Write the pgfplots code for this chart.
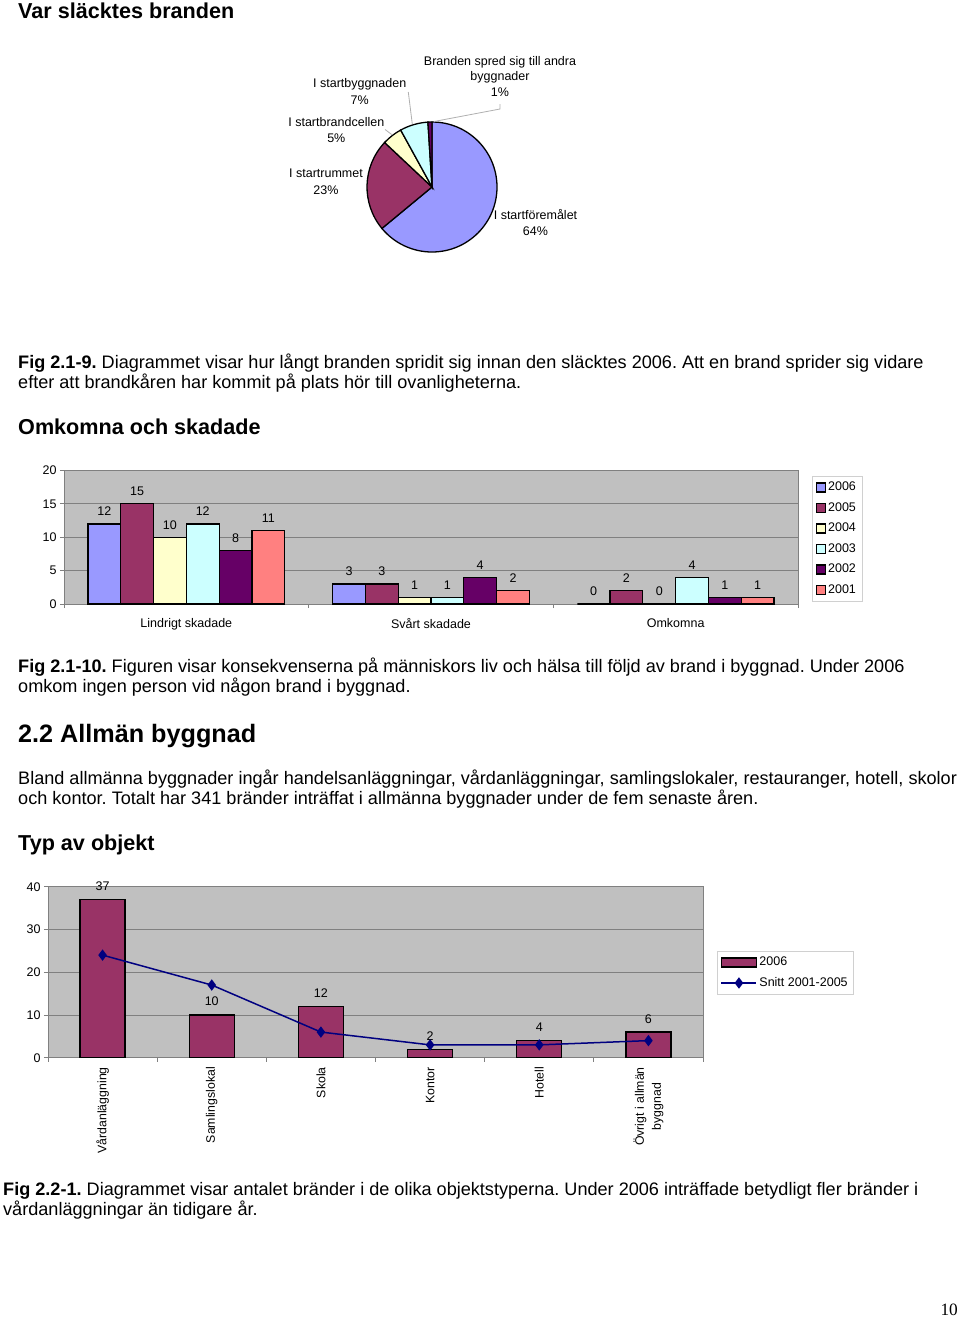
\documentclass[border=0pt]{standalone}
\usepackage{fontspec}
\setmainfont{Liberation Sans}
\newfontfamily\timesfont{Liberation Serif}
\usepackage{pgfplots}
\pgfplotsset{compat=1.18}
\definecolor{cA}{HTML}{9999FF}
\definecolor{cB}{HTML}{993366}
\definecolor{cC}{HTML}{FFFFCC}
\definecolor{cD}{HTML}{CCFFFF}
\definecolor{cE}{HTML}{660066}
\definecolor{cF}{HTML}{FF8080}
\definecolor{plotgray}{HTML}{C0C0C0}
\definecolor{gridgray}{HTML}{808080}
\definecolor{leadgray}{HTML}{B0B0B0}
\definecolor{legendgray}{HTML}{D0D0D0}
\definecolor{navyc}{HTML}{000080}
\frenchspacing
\newcommand{\bodyfont}{\fontsize{18.1}{21}\selectfont}
\newcommand{\headfont}{\fontsize{21.6}{24}\selectfont\bfseries}
\newcommand{\chartfont}{\fontsize{12.5}{15}\selectfont}
\pgfplotsset{
  widebar legend/.style={legend image code/.code={\draw[##1] (0pt,-4.5pt) rectangle (35pt,4.5pt);}},
  smallbar legend/.style={legend image code/.code={\draw[##1] (0pt,-4.5pt) rectangle (9pt,4.5pt);}},
  diamond legend/.style={legend image code/.code={\draw[##1, mark repeat=2, mark phase=2] plot coordinates {(0pt,0pt) (17.5pt,0pt) (35pt,0pt)};}},
}
\begin{document}
\begin{tikzpicture}[x=1pt,y=1pt]
\path[use as bounding box, fill=white] (0,0) rectangle (960,-1320);

% ---------- text ----------
\begin{scope}[every node/.style={anchor=base west, inner sep=0pt}]
\node at (18,-18.3) {\headfont Var släcktes branden};
\node at (18,-368.5) {\bodyfont\textbf{Fig 2.1-9.} Diagrammet visar hur långt branden spridit sig innan den släcktes 2006. Att en brand sprider sig vidare};
\node at (18,-388.7) {\bodyfont efter att brandkåren har kommit på plats hör till ovanligheterna.};
\node at (18,-434.5) {\headfont Omkomna och skadade};
\node at (18,-672.3) {\bodyfont\textbf{Fig 2.1-10.} Figuren visar konsekvenserna på människors liv och hälsa till följd av brand i byggnad. Under 2006};
\node at (18,-692.8) {\bodyfont omkom ingen person vid någon brand i byggnad.};
\node at (18,-742) {\fontsize{25.2}{28}\selectfont\bfseries 2.2 Allmän byggnad};
\node at (18,-784.3) {\bodyfont Bland allmänna byggnader ingår handelsanläggningar, vårdanläggningar, samlingslokaler, restauranger, hotell, skolor};
\node at (18,-804.8) {\bodyfont och kontor. Totalt har 341 bränder inträffat i allmänna byggnader under de fem senaste åren.};
\node at (18,-850) {\headfont Typ av objekt};
\node at (3,-1195.3) {\bodyfont\textbf{Fig 2.2-1.} Diagrammet visar antalet bränder i de olika objektstyperna. Under 2006 inträffade betydligt fler bränder i};
\node at (3,-1215.8) {\bodyfont vårdanläggningar än tidigare år.};
\node[anchor=base east] at (958,-1315) {\timesfont\fontsize{17.3}{20}\selectfont 10};
\end{scope}

% ---------- pie ----------
\begin{axis}[at={(432pt,-187pt)}, anchor=center, scale only axis,
  width=130pt, height=130pt, xmin=-1, xmax=1, ymin=-1, ymax=1,
  hide axis, clip=false]
% shares in percent: 64, 23, 5, 7, 1 (clockwise from top)
\filldraw[fill=cA, draw=black, line width=1.3pt] (axis cs:0,0) -- (axis cs:{cos(90)},{sin(90)}) arc[start angle=90, delta angle=-3.6*64, radius=65pt] -- cycle;
\filldraw[fill=cB, draw=black, line width=1.3pt] (axis cs:0,0) -- (axis cs:{cos(-140.4)},{sin(-140.4)}) arc[start angle=-140.4, delta angle=-3.6*23, radius=65pt] -- cycle;
\filldraw[fill=cC, draw=black, line width=1.3pt] (axis cs:0,0) -- (axis cs:{cos(-223.2)},{sin(-223.2)}) arc[start angle=-223.2, delta angle=-3.6*5, radius=65pt] -- cycle;
\filldraw[fill=cD, draw=black, line width=1.3pt] (axis cs:0,0) -- (axis cs:{cos(-241.2)},{sin(-241.2)}) arc[start angle=-241.2, delta angle=-3.6*7, radius=65pt] -- cycle;
\filldraw[fill=cE, draw=black, line width=1.3pt] (axis cs:0,0) -- (axis cs:{cos(-266.4)},{sin(-266.4)}) arc[start angle=-266.4, delta angle=-3.6*1, radius=65pt] -- cycle;
\end{axis}
\begin{scope}[every node/.style={anchor=base, inner sep=0pt, font=\chartfont}]
\node at (500,-65) {Branden spred sig till andra};
\node at (500,-80.7) {byggnader};
\node at (500,-96.7) {1\%};
\node at (359.7,-87.7) {I startbyggnaden};
\node at (359.7,-104) {7\%};
\node at (336.3,-126) {I startbrandcellen};
\node at (336.3,-142) {5\%};
\node at (326,-177.3) {I startrummet};
\node at (326,-194) {23\%};
\node at (535.5,-219.3) {I startföremålet};
\node at (535.5,-235.7) {64\%};
\end{scope}
\draw[leadgray, line width=0.8pt] (500,-104) -- (500,-109) -- (434,-121.5);
\draw[leadgray, line width=0.8pt] (408.3,-92) -- (412.3,-124);
\draw[leadgray, line width=0.8pt] (385,-129.5) -- (391.7,-134.5);

% ---------- Omkomna och skadade ----------
\begin{axis}[at={(64pt,-604pt)}, anchor=south west, scale only axis,
  width=734pt, height=133.5pt,
  ybar=0pt, bar width=32.8pt,
  xmin=-0.5, xmax=2.5, ymin=0, ymax=20,
  xtick={-0.5,0.5,1.5,2.5}, xticklabels={},
  extra x ticks={0,1,2},
  extra x tick labels={Lindrigt skadade,Svårt skadade,Omkomna},
  extra x tick style={major tick length=0pt, tick label style={yshift=-10.5pt}},
  ytick={0,5,10,15,20},
  tick pos=left, tick align=outside, major tick length=4pt,
  ymajorgrids, grid style={draw=gridgray, line width=0.8pt},
  axis background/.style={fill=plotgray},
  axis line style={draw=gridgray, line width=1pt},
  tick style={draw=gridgray, line width=0.8pt},
  ticklabel style={font=\chartfont},
  /pgf/number format/assume math mode=true,
  nodes near coords,
  every node near coord/.append style={font=\chartfont, yshift=4pt, /pgf/number format/assume math mode=true},
  legend style={at={(axis description cs:1.019,0.959)}, anchor=north west,
    draw=legendgray, fill=white, font=\chartfont, inner xsep=4pt, inner ysep=1pt,
    nodes={text height=9pt, text depth=2.5pt, inner ysep=4.5pt, inner xsep=1.8pt}},
  legend cell align=left,
  smallbar legend,
  clip=false]
\addplot[fill=cA, draw=black, line width=1.2pt] coordinates {(0,12) (1,3) (2,0)};
\addplot[fill=cB, draw=black, line width=1.2pt] coordinates {(0,15) (1,3) (2,2)};
\addplot[fill=cC, draw=black, line width=1.2pt] coordinates {(0,10) (1,1) (2,0)};
\addplot[fill=cD, draw=black, line width=1.2pt] coordinates {(0,12) (1,1) (2,4)};
\addplot[fill=cE, draw=black, line width=1.2pt] coordinates {(0,8) (1,4) (2,1)};
\addplot[fill=cF, draw=black, line width=1.2pt] coordinates {(0,11) (1,2) (2,1)};
\legend{2006,2005,2004,2003,2002,2001}
\end{axis}

% ---------- Typ av objekt ----------
\begin{axis}[at={(48pt,-1057.7pt)}, anchor=south west, scale only axis,
  width=655pt, height=171pt,
  xmin=-0.5, xmax=5.5, ymin=0, ymax=40,
  xtick={-0.5,0.5,1.5,2.5,3.5,4.5,5.5}, xticklabels={},
  extra x ticks={0,1,2,3,4,5},
  extra x tick labels={Vårdanläggning,Samlingslokal,Skola,Kontor,Hotell,{Övrigt i allmän\\byggnad}},
  extra x tick style={major tick length=0pt,
    tick label style={rotate=90, anchor=east, align=center, xshift=-6pt, font=\fontsize{12.3}{17}\selectfont}},
  ytick={0,10,20,30,40},
  tick pos=left, tick align=outside, major tick length=4pt,
  ymajorgrids, grid style={draw=gridgray, line width=0.8pt},
  axis background/.style={fill=plotgray},
  axis line style={draw=gridgray, line width=1pt},
  tick style={draw=gridgray, line width=0.8pt},
  ticklabel style={font=\chartfont},
  /pgf/number format/assume math mode=true,
  legend style={at={(axis description cs:1.0214,0.624)}, anchor=north west,
    draw=legendgray, fill=white, font=\chartfont, inner xsep=3.5pt, inner ysep=1pt,
    nodes={text height=9pt, text depth=2.5pt, inner ysep=4.5pt, inner xsep=2.2pt}},
  legend cell align=left,
  clip=false]
\addplot[ybar, bar width=45pt, fill=cB, draw=black, line width=1.2pt,
  nodes near coords,
  every node near coord/.append style={font=\chartfont, yshift=5pt, /pgf/number format/assume math mode=true},
  widebar legend]
  coordinates {(0,37) (1,10) (2,12) (3,2) (4,4) (5,6)};
\addplot[sharp plot, color=navyc, line width=1.5pt, mark=diamond*, mark size=4.5pt,
  mark options={fill=navyc, solid}, diamond legend]
  coordinates {(0,24) (1,17) (2,6) (3,3) (4,3) (5,4)};
\legend{2006,Snitt 2001-2005}
\end{axis}
\end{tikzpicture}
\end{document}
